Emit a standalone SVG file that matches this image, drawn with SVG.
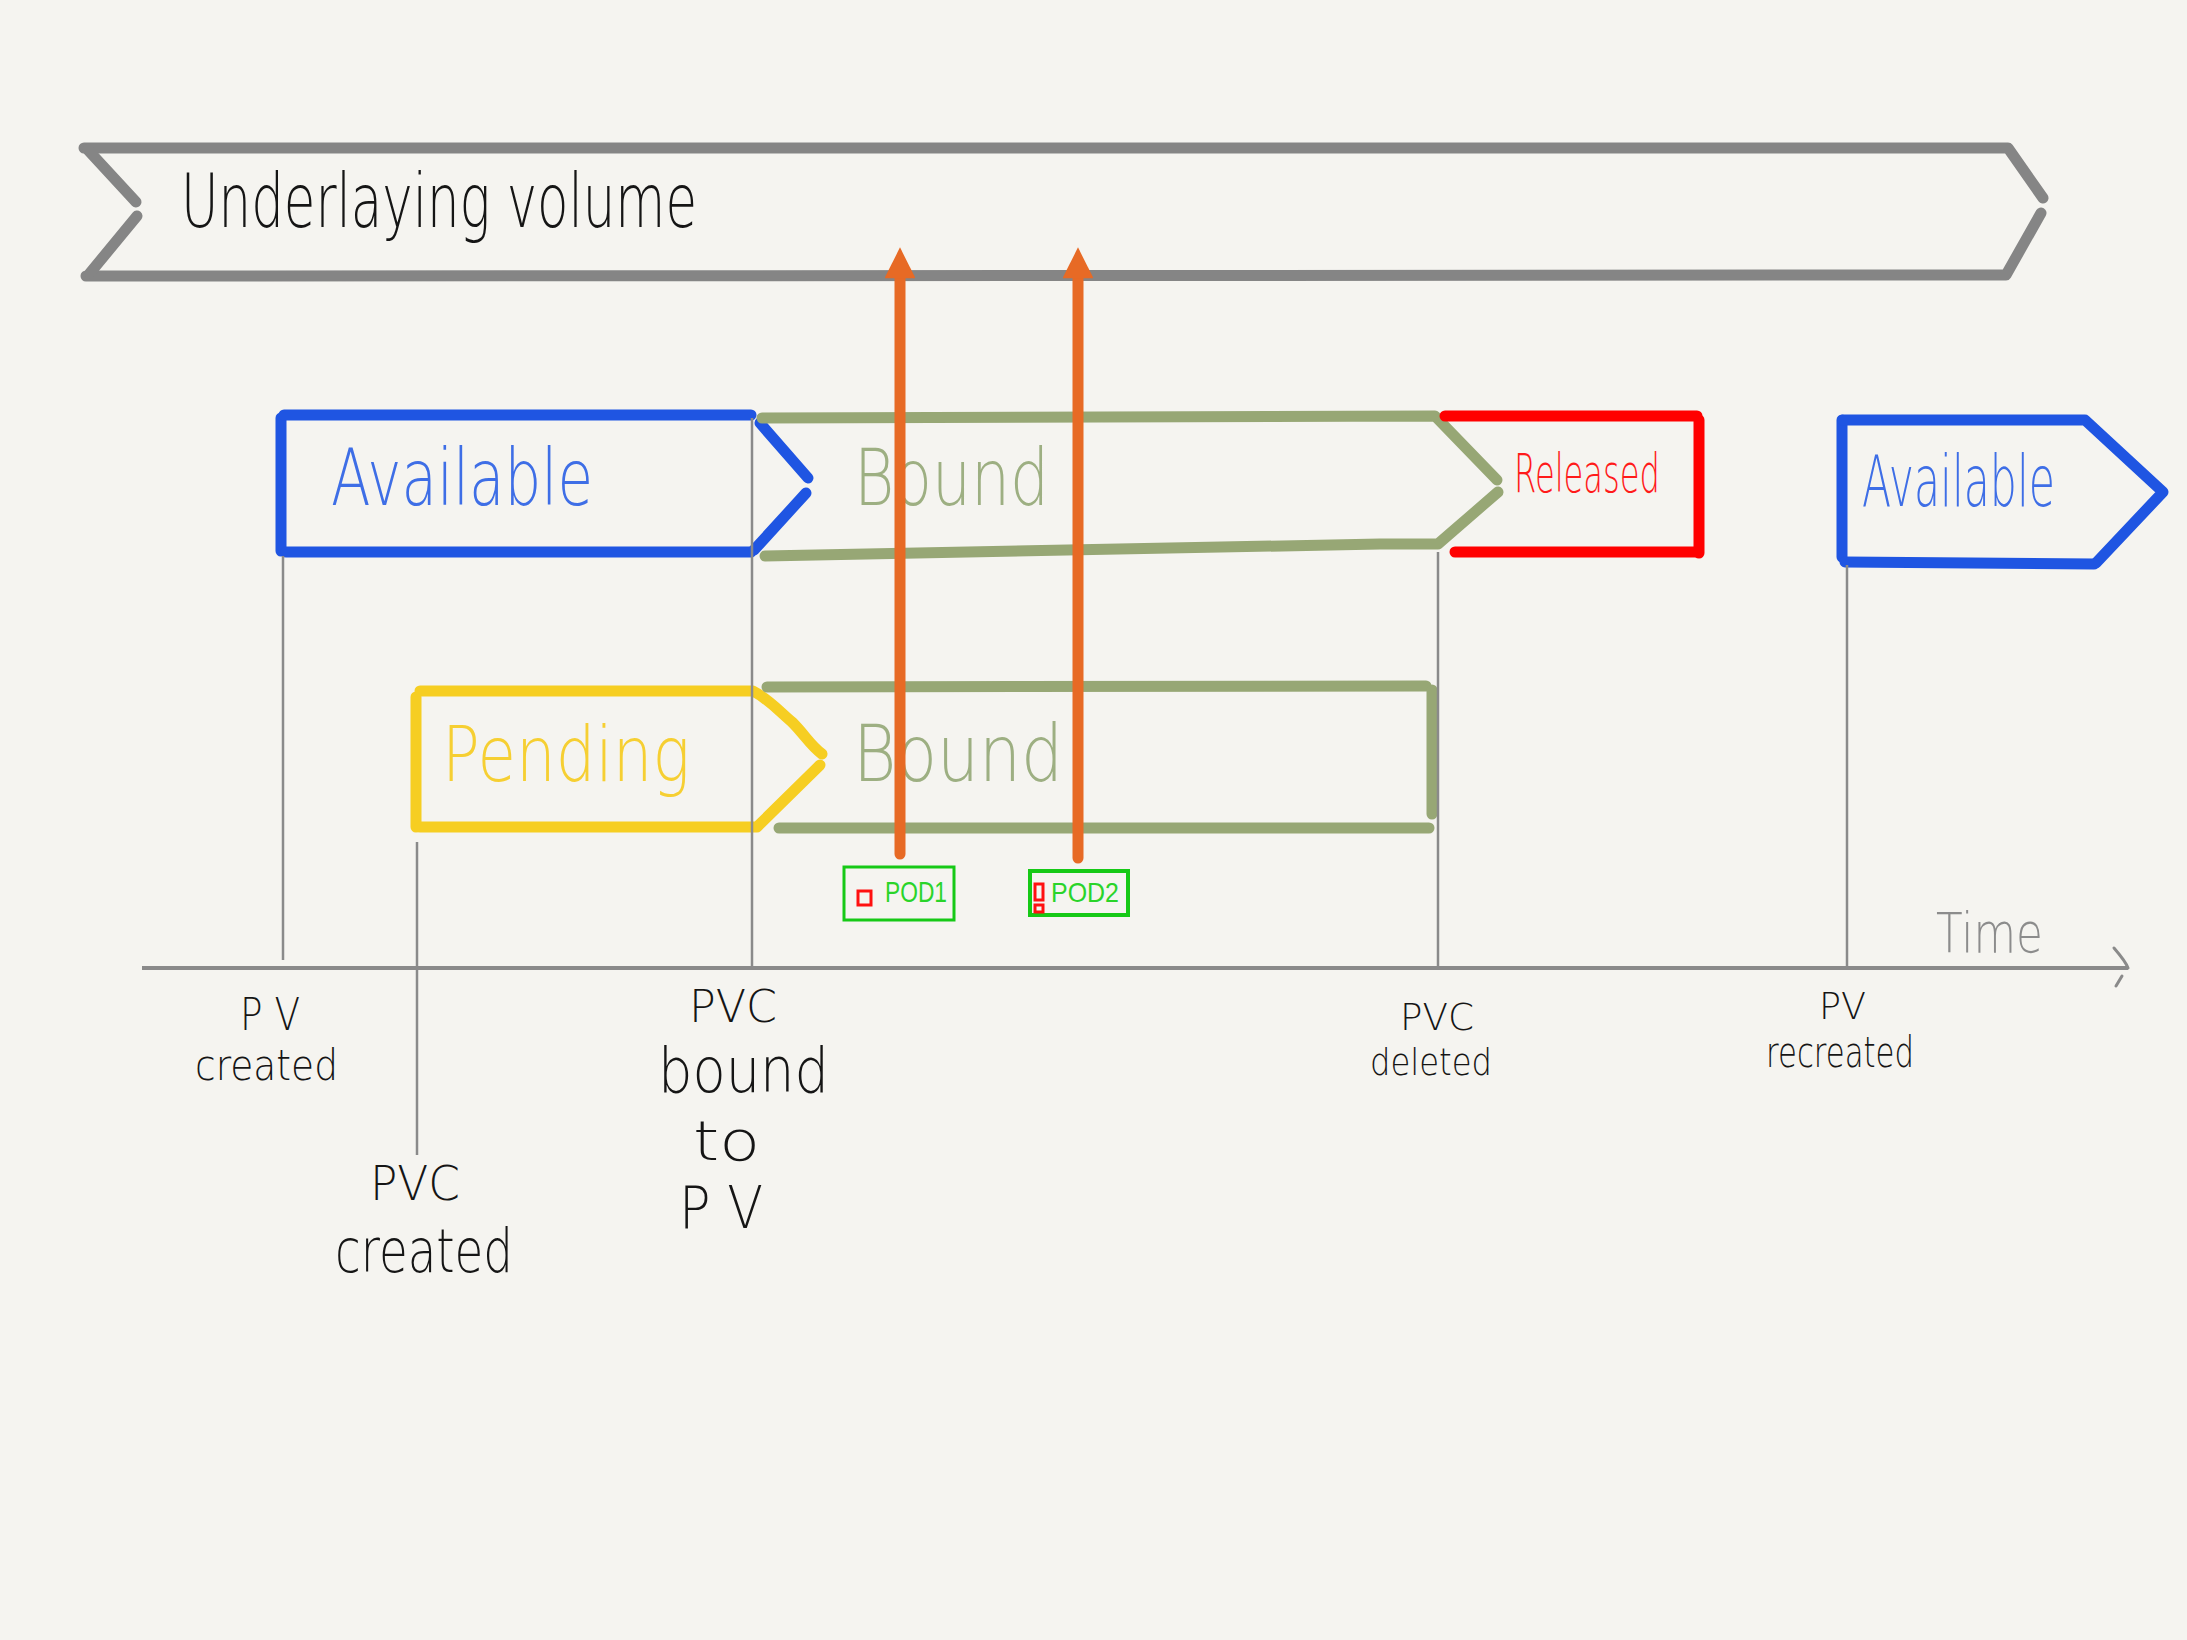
<svg xmlns="http://www.w3.org/2000/svg" width="2187" height="1640" viewBox="0 0 2187 1640">
<defs>
<style>
.bg{fill:#F5F4F0}
.thick{fill:none;stroke-width:11;stroke-linecap:round;stroke-linejoin:round}
.grey{stroke:#858585}
.blue{stroke:#1F55E2}
.green{stroke:#97A775}
.red{stroke:#FF0000}
.yellow{stroke:#F6CE22}
.thin{fill:none;stroke:#8A8A8A;stroke-width:2.5}
.hand{font-family:"DejaVu Sans","Liberation Sans",sans-serif;font-weight:200}
.blk{fill:#151515}
.orange{stroke:#E76A25;stroke-width:11;stroke-linecap:round;fill:none}
.pod{fill:none;stroke:#16C916}
.podtxt{fill:#2AD42A;font-family:"Liberation Sans",sans-serif}
.redsq{fill:none;stroke:#FF1010;stroke-width:3}
</style>
<marker id="ah" viewBox="0 0 10 10" refX="2" refY="5" markerWidth="3.2" markerHeight="2.8" orient="auto" markerUnits="strokeWidth">
<path d="M0,0 L10,5 L0,10 Z" fill="#E76A25"/>
</marker>
</defs>
<rect class="bg" x="0" y="0" width="2187" height="1640"/>

<g id="banner">
<path class="thick grey" d="M84,148 L2008,148 L2043,198"/>
<path class="thick grey" d="M2041,213 L2006,275 L86,276"/>
<path class="thick grey" d="M88,150 L136,202"/>
<path class="thick grey" d="M137,216 L90,273"/>
<text class="hand blk" x="181" y="227" font-size="74" textLength="516" lengthAdjust="spacingAndGlyphs">Underlaying volume</text>
</g>

<g id="available1">
<path class="thick blue" d="M281,418 L281,551"/>
<path class="thick blue" d="M284,415 L751,415"/>
<path class="thick blue" d="M286,552 L751,552"/>
<path class="thick blue" d="M760,423 L808,478"/>
<path class="thick blue" d="M806,493 L754,550"/>
<text class="hand" fill="#3E6EE6" x="331" y="505" font-size="78" textLength="262" lengthAdjust="spacingAndGlyphs">Available</text>
</g>

<g id="bound1">
<path class="thick green" d="M762,418 L1435,416 L1497,480"/>
<path class="thick green" d="M1498,492 L1438,544 L1380,544 L765,556"/>
<text class="hand" fill="#9DAF82" x="854" y="505" font-size="78" textLength="195" lengthAdjust="spacingAndGlyphs">Bound</text>
</g>

<g id="released">
<path class="thick red" d="M1445,416 L1697,416"/>
<path class="thick red" d="M1699,420 L1699,553"/>
<path class="thick red" d="M1455,552 L1697,552"/>
<text class="hand" fill="#FF1A1A" x="1514" y="492" font-size="54" textLength="146" lengthAdjust="spacingAndGlyphs">Released</text>
</g>

<g id="available2">
<path class="thick blue" d="M1842,420 L1842,557"/>
<path class="thick blue" d="M1843,420 L2085,420 L2163,492 L2096,563"/>
<path class="thick blue" d="M1845,562 L2094,564"/>
<text class="hand" fill="#3E6EE6" x="1862" y="506" font-size="72" textLength="193" lengthAdjust="spacingAndGlyphs">Available</text>
</g>

<g id="pending">
<path class="thick yellow" d="M416,697 L416,827"/>
<path class="thick yellow" d="M420,691 L753,691 C770,700 780,712 792,722 C805,735 810,745 822,754"/>
<path class="thick yellow" d="M820,765 L757,827 L420,827"/>
<text class="hand" fill="#F6CF32" x="442" y="781" font-size="76" textLength="248" lengthAdjust="spacingAndGlyphs">Pending</text>
</g>

<g id="bound2">
<path class="thick green" d="M767,687 L1426,686"/>
<path class="thick green" d="M1432,690 L1432,814"/>
<path class="thick green" d="M779,828 L1429,828"/>
<text class="hand" fill="#9DAF82" x="853" y="781" font-size="78" textLength="210" lengthAdjust="spacingAndGlyphs">Bound</text>
</g>

<g id="pod1">
<rect class="pod" x="844" y="867" width="110" height="53" stroke-width="3"/>
<rect class="redsq" x="858" y="891" width="13" height="14"/>
<text class="podtxt" x="885" y="902" font-size="30" textLength="62" lengthAdjust="spacingAndGlyphs">POD1</text>
</g>

<g id="pod2">
<rect class="pod" x="1030" y="871" width="98" height="44" stroke-width="4"/>
<rect class="redsq" x="1035" y="884" width="8" height="16"/>
<rect class="redsq" x="1035" y="905" width="8" height="7"/>
<text class="podtxt" x="1051" y="902" font-size="28" textLength="68" lengthAdjust="spacingAndGlyphs">POD2</text>
</g>

<g id="axis">
<path d="M142,968 L2128,968" fill="none" stroke="#8A8A8A" stroke-width="4"/>
<path d="M2114,948 C2120,955 2126,962 2128,968" fill="none" stroke="#8A8A8A" stroke-width="3" stroke-linecap="round"/>
<path d="M2122,976 L2116,986" fill="none" stroke="#8A8A8A" stroke-width="3" stroke-linecap="round"/>
<text class="hand" fill="#8C8C8C" x="1936" y="952" font-size="56" textLength="107" lengthAdjust="spacingAndGlyphs">Time</text>
</g>

<g id="connectors">
<line class="thin" x1="283" y1="556" x2="283" y2="960"/>
<line class="thin" x1="417" y1="842" x2="417" y2="1155"/>
<line class="thin" x1="752" y1="418" x2="752" y2="968"/>
<line class="thin" x1="1438" y1="552" x2="1438" y2="968"/>
<line class="thin" x1="1847" y1="565" x2="1847" y2="968"/>
<line class="orange" x1="900" y1="854" x2="900" y2="272" marker-end="url(#ah)"/>
<line class="orange" x1="1078" y1="858" x2="1078" y2="272" marker-end="url(#ah)"/>
</g>

<g id="labels">
<text class="hand blk" x="240" y="1030" font-size="44" textLength="60" lengthAdjust="spacingAndGlyphs">P V</text>
<text class="hand blk" x="195" y="1080" font-size="42" textLength="143" lengthAdjust="spacingAndGlyphs">created</text>
<text class="hand blk" x="370" y="1200" font-size="48" textLength="90" lengthAdjust="spacingAndGlyphs">PVC</text>
<text class="hand blk" x="335" y="1272" font-size="60" textLength="178" lengthAdjust="spacingAndGlyphs">created</text>
<text class="hand blk" x="689" y="1022" font-size="44" textLength="88" lengthAdjust="spacingAndGlyphs">PVC</text>
<text class="hand blk" x="658" y="1092" font-size="62" font-weight="400" textLength="171" lengthAdjust="spacingAndGlyphs">bound</text>
<text class="hand blk" x="693" y="1160" font-size="56" font-weight="400" textLength="67" lengthAdjust="spacingAndGlyphs">to</text>
<text class="hand blk" x="679" y="1228" font-size="58" textLength="84" lengthAdjust="spacingAndGlyphs">P V</text>
<text class="hand blk" x="1400" y="1030" font-size="38" textLength="74" lengthAdjust="spacingAndGlyphs">PVC</text>
<text class="hand blk" x="1370" y="1075" font-size="38" textLength="122" lengthAdjust="spacingAndGlyphs">deleted</text>
<text class="hand blk" x="1819" y="1019" font-size="38" textLength="47" lengthAdjust="spacingAndGlyphs">PV</text>
<text class="hand blk" x="1766" y="1067" font-size="42" textLength="148" lengthAdjust="spacingAndGlyphs">recreated</text>
</g>
</svg>
